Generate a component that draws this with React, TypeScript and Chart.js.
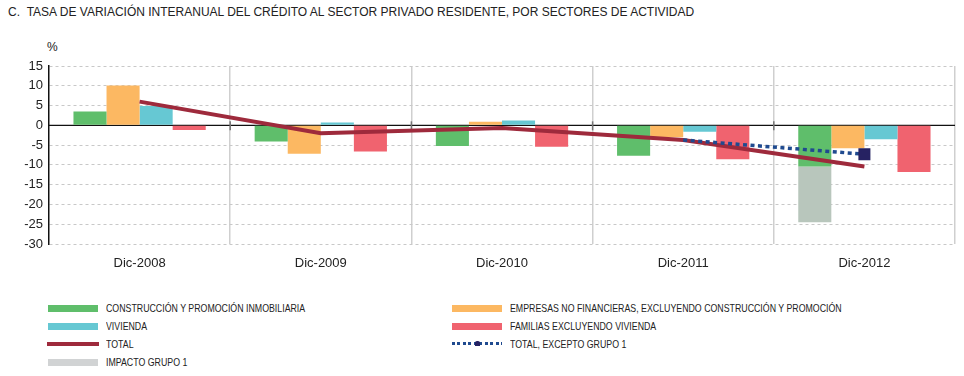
import React, { useEffect, useRef } from "react";
import { Chart, registerables } from "chart.js";
Chart.register(...registerables);

const categories = ["Dic-2008", "Dic-2009", "Dic-2010", "Dic-2011", "Dic-2012"];
const construccion = [3.5, -4.1, -5.2, -7.7, -10.4];
const impactoGrupo1 = [null, null, null, null, -14.1];
const empresas = [10.1, -7.2, 0.9, -3.0, -5.8];
const vivienda = [4.9, 0.7, 1.2, -1.6, -3.5];
const familias = [-1.2, -6.6, -5.4, -8.6, -11.8];
const total = [6.0, -2.0, -0.7, -3.7, -10.4];
const totalExcepto = [null, null, null, -3.7, -7.3];
const yTicks = { min: -30, max: 15, step: 5 };

const C_GREEN = "#5fbe6b";
const C_ORANGE = "#fcb862";
const C_TEAL = "#66c8d3";
const C_RED = "#f0636f";
const C_TOTAL = "#9e2a3c";
const C_GRAY = "#b8c6bc";
const C_GRAY_LEG = "#d1d3d4";
const C_DOT = "#1f4a8f";
const C_MARK = "#262262";

const zeroPlugin = {
  id: "zeroLine",
  beforeDatasetsDraw(chart: any) {
    const { ctx, chartArea, scales } = chart;
    const y0 = scales.y.getPixelForValue(0);
    ctx.save();
    ctx.strokeStyle = "#111";
    ctx.lineWidth = 1.2;
    ctx.beginPath();
    ctx.moveTo(chartArea.left, y0);
    ctx.lineTo(chartArea.right, y0);
    ctx.stroke();
    const xs = scales.x;
    ctx.strokeStyle = "#777";
    ctx.lineWidth = 1.5;
    for (let i = 1; i < categories.length; i++) {
      const x = (xs.getPixelForValue(i - 1) + xs.getPixelForValue(i)) / 2;
      ctx.beginPath();
      ctx.moveTo(x, y0 - 4);
      ctx.lineTo(x, y0 + 5);
      ctx.stroke();
    }
    ctx.restore();
  },
};

const legendItems = [
  { label: "CONSTRUCCIÓN Y PROMOCIÓN INMOBILIARIA", kind: "bar", color: C_GREEN },
  { label: "EMPRESAS NO FINANCIERAS, EXCLUYENDO CONSTRUCCIÓN Y PROMOCIÓN", kind: "bar", color: C_ORANGE },
  { label: "VIVIENDA", kind: "bar", color: C_TEAL },
  { label: "FAMILIAS EXCLUYENDO VIVIENDA", kind: "bar", color: C_RED },
  { label: "TOTAL", kind: "line", color: C_TOTAL },
  { label: "TOTAL, EXCEPTO GRUPO 1", kind: "dot", color: C_DOT },
  { label: "IMPACTO GRUPO 1", kind: "bar", color: C_GRAY_LEG },
];

function Sample({ kind, color }: { kind: string; color: string }) {
  if (kind === "bar")
    return <div style={{ width: 50, height: 7, background: color }} />;
  if (kind === "line")
    return <div style={{ width: 52, height: 4, background: color, marginLeft: -1 }} />;
  return (
    <div style={{ width: 50, height: 6, position: "relative" }}>
      <div
        style={{
          position: "absolute",
          top: 1,
          left: 0,
          width: 50,
          height: 3,
          backgroundImage: `repeating-linear-gradient(90deg, ${color} 0 3px, transparent 3px 5.5px)`,
        }}
      />
      <div style={{ position: "absolute", top: 0, left: 23, width: 5, height: 5, background: C_MARK, borderRadius: "2px 2px 0 0" }} />
    </div>
  );
}

export default function App() {
  const ref = useRef<HTMLCanvasElement>(null);
  useEffect(() => {
    const chart = new Chart(ref.current!, {
      type: "bar",
      data: {
        labels: categories,
        datasets: [
          { type: "line", label: "TOTAL, EXCEPTO GRUPO 1", data: totalExcepto as any, borderColor: C_DOT, borderWidth: 3.5, borderDash: [4, 3.5], borderCapStyle: "butt", pointStyle: "rect", pointRadius: [0, 0, 0, 0, 8.5], pointBackgroundColor: C_MARK, pointBorderWidth: 0, stack: "L2", order: 1, spanGaps: false } as any,
          { type: "line", label: "TOTAL", data: total, borderColor: C_TOTAL, borderWidth: 4, pointRadius: 0, stack: "L1", order: 2 } as any,
          { label: "CONSTRUCCIÓN", data: construccion, backgroundColor: C_GREEN, stack: "g", order: 10 },
          { label: "IMPACTO", data: impactoGrupo1 as any, backgroundColor: C_GRAY, stack: "g", order: 10 },
          { label: "EMPRESAS", data: empresas, backgroundColor: C_ORANGE, stack: "o", order: 10 },
          { label: "VIVIENDA", data: vivienda, backgroundColor: C_TEAL, stack: "t", order: 10 },
          { label: "FAMILIAS", data: familias, backgroundColor: C_RED, stack: "r", order: 10 },
        ],
      },
      options: {
        animation: false,
        responsive: false,
        maintainAspectRatio: false,
        layout: { padding: { left: 0, right: 9, top: 66, bottom: 0 } },
        datasets: { bar: { categoryPercentage: 0.73, barPercentage: 1.0 } } as any,
        plugins: { legend: { display: false }, tooltip: { enabled: false } },
        scales: {
          x: {
            stacked: true,
            grid: {
              offset: true,
              color: (c: any) => (c.index === 0 || c.index === categories.length ? "rgba(0,0,0,0)" : "#cfcfcf"),
              lineWidth: 1.5,
              drawTicks: false,
            },
            border: { display: false },
            ticks: { color: "#222", font: { family: "Liberation Sans, Arial", size: 13 }, padding: 12 },
            afterFit: (s: any) => { s.height = 36; },
          },
          y: {
            stacked: true,
            min: yTicks.min,
            max: yTicks.max,
            ticks: { stepSize: yTicks.step, color: "#222", font: { family: "Liberation Sans, Arial", size: 13 }, padding: 6 },
            grid: { color: "#c8c8c8", lineWidth: 1, drawTicks: false },
            border: { display: true, color: "#111", width: 1.5, dash: [3, 3] },
            afterFit: (s: any) => { s.width = 49; },
          },
        },
      },
      plugins: [zeroPlugin],
    });
    return () => chart.destroy();
  }, []);

  const leftX = 48;
  const rightX = 452;
  return (
    <div style={{ position: "absolute", left: 0, top: 0, width: 964, height: 376, background: "#fff", fontFamily: "Liberation Sans, Arial, sans-serif" }}>
      <div style={{ position: "absolute", left: 8, top: 5, fontSize: 12, color: "#222", whiteSpace: "nowrap" }}>
        C.&nbsp;&nbsp;TASA DE VARIACIÓN INTERANUAL DEL CRÉDITO AL SECTOR PRIVADO RESIDENTE, POR SECTORES DE ACTIVIDAD
      </div>
      <div style={{ position: "absolute", left: 47, top: 40, fontSize: 12, color: "#222" }}>%</div>
      <canvas ref={ref} width={964} height={280} style={{ position: "absolute", left: 0, top: 0 }} />
      {legendItems.map((it, i) => {
        const col = i % 2;
        const row = Math.floor(i / 2);
        const x = col === 0 ? leftX : rightX;
        const y = 308 + row * 18;
        return (
          <div key={i} style={{ position: "absolute", left: x, top: y - 7, height: 14, display: "flex", alignItems: "center" }}>
            <div style={{ width: 58, flex: "none" }}>
              <Sample kind={it.kind} color={it.color} />
            </div>
            <span style={{ display: "inline-block", fontSize: 11, color: "#222", whiteSpace: "nowrap", transform: "scaleX(0.8)", transformOrigin: "left center" }}>
              {it.label}
            </span>
          </div>
        );
      })}
    </div>
  );
}
